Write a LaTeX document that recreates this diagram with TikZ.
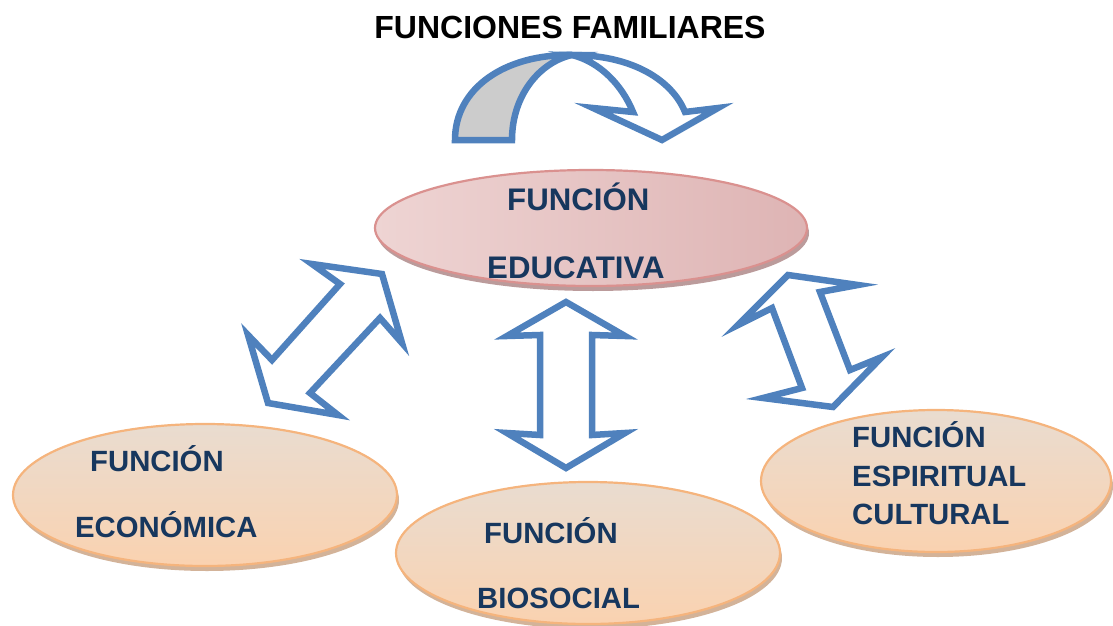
\documentclass[tikz,border=0pt]{standalone}
\usepackage{fontspec}
\setmainfont{Liberation Sans}
\usetikzlibrary{shapes.geometric,shadows}

\definecolor{navy}{RGB}{23,55,94}
\definecolor{arrowblue}{RGB}{79,129,189}
\definecolor{peachTop}{RGB}{233,220,208}
\definecolor{peachBot}{RGB}{250,210,176}
\definecolor{peachLine}{RGB}{245,180,125}
\definecolor{peachShadow}{RGB}{200,160,128}
\definecolor{pinkL}{RGB}{238,212,211}
\definecolor{pinkM}{RGB}{243,223,222}
\definecolor{pinkR}{RGB}{222,180,180}
\definecolor{pinkLine}{RGB}{218,145,143}
\definecolor{pinkShadow}{RGB}{170,130,130}
\definecolor{ribbongray}{RGB}{204,204,204}

\begin{document}
\begin{tikzpicture}[x=1pt,y=-1pt,
  lbl/.style={font=\fontsize{29.3}{30}\selectfont\bfseries, text=navy, anchor=base west, inner sep=0pt},
  biglbl/.style={lbl, font=\fontsize{31.2}{31}\selectfont\bfseries},
  titlestyle/.style={font=\fontsize{32}{32}\selectfont\bfseries, text=black, anchor=base, inner sep=0pt},
  blockarrow/.style={draw=arrowblue, line width=6.5pt, fill=white, line join=miter},
  peachell/.style={ellipse, draw=peachLine, line width=2.2pt, top color=peachTop, bottom color=peachBot,
    inner sep=0pt, drop shadow={shadow xshift=2pt, shadow yshift=-5pt, fill=peachShadow, opacity=0.8}},
  pinkell/.style={ellipse, draw=pinkLine, line width=2.2pt, left color=pinkL, middle color=pinkM, right color=pinkR,
    inner sep=0pt, drop shadow={shadow xshift=2pt, shadow yshift=-5pt, fill=pinkShadow, opacity=0.8}}
]
\useasboundingbox (0,0) rectangle (1113,626);

% title
\node[titlestyle] (title) at (570,38) {FUNCIONES FAMILIARES};

% ellipses
\node[pinkell, minimum width=432pt, minimum height=116pt] (edu) at (591,228) {};
\node[peachell, minimum width=384pt, minimum height=142pt] (eco) at (205,495) {};
\node[peachell, minimum width=384pt, minimum height=142pt] (bio) at (588,553) {};
\node[peachell, minimum width=350pt, minimum height=142pt] (esp) at (936,481) {};

% labels
\node[biglbl] (edu1) at (507,210) {FUNCIÓN};
\node[biglbl] (edu2) at (487,278) {EDUCATIVA};
\node[lbl] (eco1) at (90,471) {FUNCIÓN};
\node[lbl] (eco2) at (75,537) {ECONÓMICA};
\node[lbl] (bio1) at (484,543) {FUNCIÓN};
\node[lbl] (bio2) at (477,608) {BIOSOCIAL};
\node[lbl] (esp1) at (852,447) {FUNCIÓN};
\node[lbl] (esp2) at (852,486) {ESPIRITUAL};
\node[lbl] (esp3) at (852,524) {CULTURAL};

% top curved arrow
\filldraw[fill=ribbongray, draw=arrowblue, line width=6.5pt, line join=miter]
  (512,140) -- (455,140) .. controls (455,88) and (505,54) .. (572,55)
  .. controls (540,62) and (512,95) .. (512,140) -- cycle;
\filldraw[blockarrow]
  (572,55) .. controls (632,55) and (672,80) .. (685,112) -- (718,108) -- (662,140)
  -- (593,108) -- (633,112) .. controls (622,85) and (600,62) .. (572,55) -- cycle;

% left diagonal double arrow
\filldraw[blockarrow]
  (382,274) -- (312,264) -- (340,284) -- (272,360) -- (248,335) -- (268,403)
  -- (338,415) -- (310,393) -- (380,318) -- (402,343) -- cycle;

% centre vertical double arrow
\filldraw[blockarrow]
  (566,302) -- (625,336) -- (592,335) -- (592,435) -- (625,433) -- (566,468)
  -- (507,433) -- (540,435) -- (540,335) -- (507,336) -- cycle;

% right double arrow
\filldraw[blockarrow]
  (788,275) -- (858,285) -- (820,292) -- (850,370) -- (882,357) -- (833,407)
  -- (763,398) -- (802,388) -- (772,308) -- (738,325) -- cycle;

\end{tikzpicture}
\end{document}
